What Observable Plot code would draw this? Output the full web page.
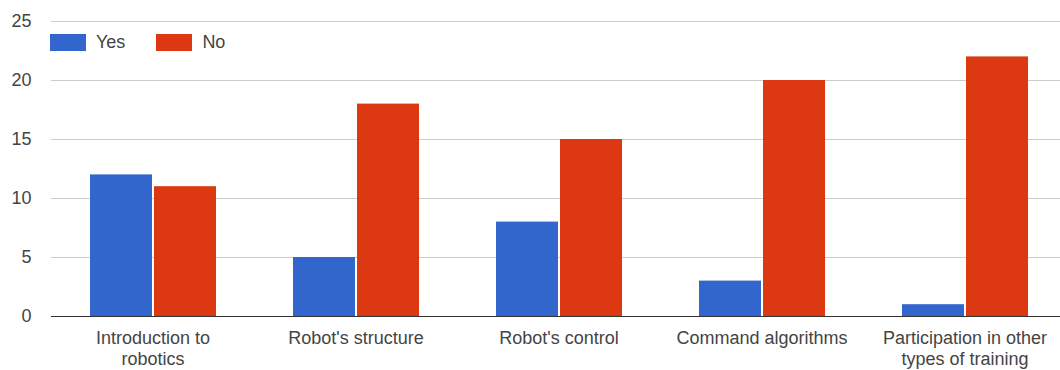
<!DOCTYPE html>
<html>
<head>
<meta charset="utf-8">
<script src="https://cdn.jsdelivr.net/npm/d3@7"></script>
<script src="https://cdn.jsdelivr.net/npm/@observablehq/plot@0.6"></script>
<style>
  html, body { margin: 0; padding: 0; background: #fff; overflow: hidden; }
  #wrap { position: relative; width: 1060px; height: 370px; overflow: hidden; }
  #chart svg { max-width: none !important; }
  #legend { position: absolute; left: 50px; top: 32px; display: flex; align-items: center;
            font-family: Arial, "Liberation Sans", sans-serif; font-size: 18px; color: #444; }
  .item { display: flex; align-items: center; margin-right: 31px; }
  .sw { width: 36px; height: 17px; margin-right: 10px; }
</style>
</head>
<body>
<div id="wrap"><div id="chart"></div><div id="legend"></div></div>
<script>
const categories = ["Introduction to robotics", "Robot's structure", "Robot's control", "Command algorithms", "Participation in other types of training"];
const tickLabels = ["Introduction to\nrobotics", "Robot's structure", "Robot's control", "Command algorithms", "Participation in other\ntypes of training"];
const series = ["Yes", "No"];
const yesValues = [12, 5, 8, 3, 1];
const noValues = [11, 18, 15, 20, 22];
const yTicks = [0, 5, 10, 15, 20, 25];
const colors = ["#3366cc", "#dc3912"];

const data = [];
categories.forEach((c, i) => {
  data.push({category: c, series: "Yes", value: yesValues[i]});
  data.push({category: c, series: "No", value: noValues[i]});
});

const chart = Plot.plot({
  width: 1066,
  height: 370,
  marginLeft: 51,
  marginRight: 0,
  marginTop: 21,
  marginBottom: 54,
  style: {fontFamily: "Arial, 'Liberation Sans', sans-serif", fontSize: "18px", color: "#444", background: "white", maxWidth: "none"},
  fx: {domain: categories, padding: 0, label: null},
  x: {domain: series, paddingInner: 0, paddingOuter: 0.574, axis: null},
  y: {domain: [0, 25], label: null},
  color: {domain: series, range: colors},
  marks: [
    Plot.gridY(yTicks, {stroke: "#cccccc", strokeOpacity: 1}),
    Plot.axisY(yTicks, {tickSize: 0, tickPadding: 20, fontSize: 18, fill: "#444", label: null}),
    Plot.axisFx({anchor: "bottom", tickSize: 0, tickPadding: 12, fontSize: 18, fill: "#444", lineHeight: 1.2, label: null,
                 tickFormat: d => tickLabels[categories.indexOf(d)]}),
    Plot.barY(data, {fx: "category", x: "series", y: "value", fill: "series", insetLeft: 1, insetRight: 1}),
    Plot.ruleY([0], {stroke: "#333"})
  ]
});
chart.style.maxWidth = "none";
document.getElementById("chart").appendChild(chart);

const legend = document.getElementById("legend");
series.forEach((s, i) => {
  const item = document.createElement("div");
  item.className = "item";
  const sw = document.createElement("div");
  sw.className = "sw";
  sw.style.background = colors[i];
  const t = document.createElement("span");
  t.textContent = s;
  item.appendChild(sw);
  item.appendChild(t);
  legend.appendChild(item);
});
</script>
</body>
</html>
